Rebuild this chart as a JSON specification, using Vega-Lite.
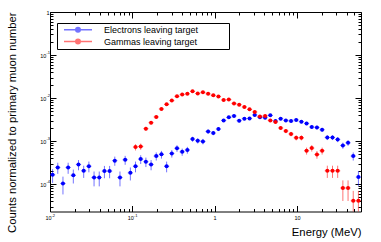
{
"$schema": "https://vega.github.io/schema/vega-lite/v6.json",
"autosize": {"type": "none"},
"padding": {"left": 50, "top": 12, "right": 20, "bottom": 30.5},
"width": 311,
"height": 199.5,
"background": "white",
"config": {
  "view": {"stroke": "black", "strokeWidth": 1},
  "axis": {"grid": false, "domain": false, "tickColor": "black", "tickWidth": 1, "labelFont": "Liberation Sans", "labelFontSize": 5.5, "labelColor": "black", "titleFont": "Liberation Sans", "titleFontSize": 11.3, "titleFontWeight": "normal", "titleColor": "black", "labelOverlap": false, "labelFlush": false, "labelBound": false}
},
"resolve": {"axis": {"x": "independent", "y": "independent"}},
"datasets": {
"d": [
{"s":"Electrons leaving target","x":0.010752,"x0":0.01,"x1":0.01156,"y":1.64e-4,"lo":1.063e-4,"hi":2.217e-4},
{"s":"Electrons leaving target","x":0.012429,"x0":0.01156,"x1":0.013364,"y":2.43e-4,"lo":1.728e-4,"hi":3.132e-4},
{"s":"Electrons leaving target","x":0.014369,"x0":0.013364,"x1":0.015449,"y":1.03e-4,"lo":5.73e-5,"hi":1.487e-4},
{"s":"Electrons leaving target","x":0.016611,"x0":0.015449,"x1":0.01786,"y":2.43e-4,"lo":1.728e-4,"hi":3.132e-4},
{"s":"Electrons leaving target","x":0.019203,"x0":0.01786,"x1":0.020647,"y":1.6e-4,"lo":1.03e-4,"hi":2.17e-4},
{"s":"Electrons leaving target","x":0.022199,"x0":0.020647,"x1":0.023868,"y":2.85e-4,"lo":2.089e-4,"hi":3.611e-4},
{"s":"Electrons leaving target","x":0.025663,"x0":0.023868,"x1":0.027593,"y":2.03e-4,"lo":1.388e-4,"hi":2.672e-4},
{"s":"Electrons leaving target","x":0.029668,"x0":0.027593,"x1":0.031898,"y":2.6e-4,"lo":1.873e-4,"hi":3.327e-4},
{"s":"Electrons leaving target","x":0.034296,"x0":0.031898,"x1":0.036876,"y":1.42e-4,"lo":8.83e-5,"hi":1.957e-4},
{"s":"Electrons leaving target","x":0.039649,"x0":0.036876,"x1":0.04263,"y":1.42e-4,"lo":8.83e-5,"hi":1.957e-4},
{"s":"Electrons leaving target","x":0.045835,"x0":0.04263,"x1":0.049282,"y":2.0e-4,"lo":1.363e-4,"hi":2.637e-4},
{"s":"Electrons leaving target","x":0.052987,"x0":0.049282,"x1":0.056971,"y":2.0e-4,"lo":1.363e-4,"hi":2.637e-4},
{"s":"Electrons leaving target","x":0.061255,"x0":0.056971,"x1":0.065861,"y":3.5e-4,"lo":2.657e-4,"hi":4.343e-4},
{"s":"Electrons leaving target","x":0.070813,"x0":0.065861,"x1":0.076138,"y":1.42e-4,"lo":8.83e-5,"hi":1.957e-4},
{"s":"Electrons leaving target","x":0.081863,"x0":0.076138,"x1":0.088019,"y":3.66e-4,"lo":2.798e-4,"hi":4.522e-4},
{"s":"Electrons leaving target","x":0.094637,"x0":0.088019,"x1":0.10175,"y":1.82e-4,"lo":1.212e-4,"hi":2.428e-4},
{"s":"Electrons leaving target","x":0.1094,"x0":0.10175,"x1":0.11763,"y":2.6e-4,"lo":1.873e-4,"hi":3.327e-4},
{"s":"Electrons leaving target","x":0.12647,"x0":0.11763,"x1":0.13598,"y":3.8e-4,"lo":2.922e-4,"hi":4.678e-4},
{"s":"Electrons leaving target","x":0.1462,"x0":0.13598,"x1":0.1572,"y":3.3e-4,"lo":2.481e-4,"hi":4.119e-4},
{"s":"Electrons leaving target","x":0.16902,"x0":0.1572,"x1":0.18173,"y":2.85e-4,"lo":2.089e-4,"hi":3.611e-4},
{"s":"Electrons leaving target","x":0.19539,"x0":0.18173,"x1":0.21009,"y":4.47e-4,"lo":3.517e-4,"hi":5.423e-4},
{"s":"Electrons leaving target","x":0.22589,"x0":0.21009,"x1":0.24287,"y":4.9e-4,"lo":3.903e-4,"hi":5.897e-4},
{"s":"Electrons leaving target","x":0.26113,"x0":0.24287,"x1":0.28077,"y":2.6e-4,"lo":1.873e-4,"hi":3.327e-4},
{"s":"Electrons leaving target","x":0.30188,"x0":0.28077,"x1":0.32458,"y":5.15e-4,"lo":4.13e-4,"hi":6.17e-4},
{"s":"Electrons leaving target","x":0.34898,"x0":0.32458,"x1":0.37523,"y":6.8e-4,"lo":5.62e-4,"hi":7.98e-4},
{"s":"Electrons leaving target","x":0.40344,"x0":0.37523,"x1":0.43378,"y":5.6e-4,"lo":4.53e-4,"hi":6.67e-4},
{"s":"Electrons leaving target","x":0.4664,"x0":0.43378,"x1":0.50147,"y":6.2e-4,"lo":5.08e-4,"hi":7.32e-4},
{"s":"Electrons leaving target","x":0.53918,"x0":0.50147,"x1":0.57972,"y":1.11e-3,"lo":9.6e-4,"hi":1.26e-3},
{"s":"Electrons leaving target","x":0.62331,"x0":0.57972,"x1":0.67018,"y":1.02e-3,"lo":8.76e-4,"hi":1.164e-3},
{"s":"Electrons leaving target","x":0.72057,"x0":0.67018,"x1":0.77476,"y":9.8e-4,"lo":8.39e-4,"hi":1.121e-3},
{"s":"Electrons leaving target","x":0.83301,"x0":0.77476,"x1":0.89566,"y":1.67e-3,"lo":1.486e-3,"hi":1.854e-3},
{"s":"Electrons leaving target","x":0.963,"x0":0.89566,"x1":1.0352,"y":1.54e-3,"lo":1.363e-3,"hi":1.717e-3},
{"s":"Electrons leaving target","x":1.113,"x0":1.0352,"x1":1.1967,"y":1.9e-3,"lo":1.704e-3,"hi":2.096e-3},
{"s":"Electrons leaving target","x":1.2867,"x0":1.1967,"x1":1.3835,"y":3.02e-3,"lo":2.772e-3,"hi":3.268e-3},
{"s":"Electrons leaving target","x":1.4875,"x0":1.3835,"x1":1.5994,"y":3.55e-3,"lo":3.282e-3,"hi":3.818e-3},
{"s":"Electrons leaving target","x":1.7197,"x0":1.5994,"x1":1.849,"y":3.83e-3,"lo":3.551e-3,"hi":4.109e-3},
{"s":"Electrons leaving target","x":1.988,"x0":1.849,"x1":2.1375,"y":2.97e-3,"lo":2.724e-3,"hi":3.216e-3},
{"s":"Electrons leaving target","x":2.2982,"x0":2.1375,"x1":2.471,"y":3.31e-3,"lo":3.051e-3,"hi":3.569e-3},
{"s":"Electrons leaving target","x":2.6568,"x0":2.471,"x1":2.8566,"y":3.36e-3,"lo":3.099e-3,"hi":3.621e-3},
{"s":"Electrons leaving target","x":3.0714,"x0":2.8566,"x1":3.3024,"y":4.04e-3,"lo":3.754e-3,"hi":4.326e-3},
{"s":"Electrons leaving target","x":3.5507,"x0":3.3024,"x1":3.8177,"y":3.55e-3,"lo":3.282e-3,"hi":3.818e-3},
{"s":"Electrons leaving target","x":4.1048,"x0":3.8177,"x1":4.4134,"y":3.49e-3,"lo":3.224e-3,"hi":3.756e-3},
{"s":"Electrons leaving target","x":4.7452,"x0":4.4134,"x1":5.1021,"y":3.95e-3,"lo":3.667e-3,"hi":4.233e-3},
{"s":"Electrons leaving target","x":5.4857,"x0":5.1021,"x1":5.8982,"y":2.92e-3,"lo":2.676e-3,"hi":3.164e-3},
{"s":"Electrons leaving target","x":6.3417,"x0":5.8982,"x1":6.8186,"y":3.31e-3,"lo":3.051e-3,"hi":3.569e-3},
{"s":"Electrons leaving target","x":7.3313,"x0":6.8186,"x1":7.8826,"y":3.02e-3,"lo":2.772e-3,"hi":3.268e-3},
{"s":"Electrons leaving target","x":8.4753,"x0":7.8826,"x1":9.1126,"y":2.92e-3,"lo":2.676e-3,"hi":3.164e-3},
{"s":"Electrons leaving target","x":9.7978,"x0":9.1126,"x1":10.532,"y":3.09e-3,"lo":2.84e-3,"hi":3.34e-3},
{"s":"Electrons leaving target","x":11.324,"x0":10.532,"x1":12.178,"y":2.82e-3,"lo":2.581e-3,"hi":3.059e-3},
{"s":"Electrons leaving target","x":13.094,"x0":12.178,"x1":14.078,"y":2.57e-3,"lo":2.342e-3,"hi":2.798e-3},
{"s":"Electrons leaving target","x":15.137,"x0":14.078,"x1":16.275,"y":2.12e-3,"lo":1.913e-3,"hi":2.327e-3},
{"s":"Electrons leaving target","x":17.499,"x0":16.275,"x1":18.814,"y":2.07e-3,"lo":1.865e-3,"hi":2.275e-3},
{"s":"Electrons leaving target","x":20.229,"x0":18.814,"x1":21.75,"y":1.83e-3,"lo":1.637e-3,"hi":2.023e-3},
{"s":"Electrons leaving target","x":23.385,"x0":21.75,"x1":25.144,"y":1.21e-3,"lo":1.053e-3,"hi":1.367e-3},
{"s":"Electrons leaving target","x":27.035,"x0":25.144,"x1":29.068,"y":1.21e-3,"lo":1.053e-3,"hi":1.367e-3},
{"s":"Electrons leaving target","x":31.254,"x0":29.068,"x1":33.604,"y":1.09e-3,"lo":9.41e-4,"hi":1.239e-3},
{"s":"Electrons leaving target","x":36.13,"x0":33.604,"x1":38.847,"y":7.9e-4,"lo":6.63e-4,"hi":9.17e-4},
{"s":"Electrons leaving target","x":41.768,"x0":38.847,"x1":44.909,"y":9.1e-4,"lo":7.74e-4,"hi":1.046e-3},
{"s":"Electrons leaving target","x":48.286,"x0":44.909,"x1":51.917,"y":4.47e-4,"lo":3.517e-4,"hi":5.423e-4},
{"s":"Electrons leaving target","x":55.82,"x0":51.917,"x1":60,"y":1.45e-4,"lo":9.07e-5,"hi":1.993e-4},
{"s":"Gammas leaving target","x":0.1094,"x0":0.10175,"x1":0.11763,"y":7.24e-4,"lo":6.03e-4,"hi":8.45e-4},
{"s":"Gammas leaving target","x":0.12647,"x0":0.11763,"x1":0.13598,"y":7.48e-4,"lo":6.25e-4,"hi":8.71e-4},
{"s":"Gammas leaving target","x":0.1462,"x0":0.13598,"x1":0.1572,"y":1.94e-3,"lo":1.742e-3,"hi":2.138e-3},
{"s":"Gammas leaving target","x":0.16902,"x0":0.1572,"x1":0.18173,"y":2.67e-3,"lo":2.437e-3,"hi":2.903e-3},
{"s":"Gammas leaving target","x":0.19539,"x0":0.18173,"x1":0.21009,"y":3.63e-3,"lo":3.359e-3,"hi":3.901e-3},
{"s":"Gammas leaving target","x":0.22589,"x0":0.21009,"x1":0.24287,"y":5.57e-3,"lo":5.234e-3,"hi":5.906e-3},
{"s":"Gammas leaving target","x":0.26113,"x0":0.24287,"x1":0.28077,"y":7.13e-3,"lo":6.75e-3,"hi":7.51e-3},
{"s":"Gammas leaving target","x":0.30188,"x0":0.28077,"x1":0.32458,"y":8.7e-3,"lo":8.28e-3,"hi":9.12e-3},
{"s":"Gammas leaving target","x":0.34898,"x0":0.32458,"x1":0.37523,"y":1.1e-2,"lo":1.0527e-2,"hi":1.1473e-2},
{"s":"Gammas leaving target","x":0.40344,"x0":0.37523,"x1":0.43378,"y":1.2e-2,"lo":1.1506e-2,"hi":1.2494e-2},
{"s":"Gammas leaving target","x":0.4664,"x0":0.43378,"x1":0.50147,"y":1.25e-2,"lo":1.1996e-2,"hi":1.3004e-2},
{"s":"Gammas leaving target","x":0.53918,"x0":0.50147,"x1":0.57972,"y":1.43e-2,"lo":1.3761e-2,"hi":1.4839e-2},
{"s":"Gammas leaving target","x":0.62331,"x0":0.57972,"x1":0.67018,"y":1.27e-2,"lo":1.2192e-2,"hi":1.3208e-2},
{"s":"Gammas leaving target","x":0.72057,"x0":0.67018,"x1":0.77476,"y":1.36e-2,"lo":1.3075e-2,"hi":1.4125e-2},
{"s":"Gammas leaving target","x":0.83301,"x0":0.77476,"x1":0.89566,"y":1.25e-2,"lo":1.1996e-2,"hi":1.3004e-2},
{"s":"Gammas leaving target","x":0.963,"x0":0.89566,"x1":1.0352,"y":1.16e-2,"lo":1.1115e-2,"hi":1.2085e-2},
{"s":"Gammas leaving target","x":1.113,"x0":1.0352,"x1":1.1967,"y":1.08e-2,"lo":1.0332e-2,"hi":1.1268e-2},
{"s":"Gammas leaving target","x":1.2867,"x0":1.1967,"x1":1.3835,"y":9.0e-3,"lo":8.573e-3,"hi":9.427e-3},
{"s":"Gammas leaving target","x":1.4875,"x0":1.3835,"x1":1.5994,"y":9.2e-3,"lo":8.768e-3,"hi":9.632e-3},
{"s":"Gammas leaving target","x":1.7197,"x0":1.5994,"x1":1.849,"y":7.5e-3,"lo":7.11e-3,"hi":7.89e-3},
{"s":"Gammas leaving target","x":1.988,"x0":1.849,"x1":2.1375,"y":7.0e-3,"lo":6.623e-3,"hi":7.377e-3},
{"s":"Gammas leaving target","x":2.2982,"x0":2.1375,"x1":2.471,"y":6.2e-3,"lo":5.845e-3,"hi":6.555e-3},
{"s":"Gammas leaving target","x":2.6568,"x0":2.471,"x1":2.8566,"y":5.45e-3,"lo":5.117e-3,"hi":5.783e-3},
{"s":"Gammas leaving target","x":3.0714,"x0":2.8566,"x1":3.3024,"y":4.74e-3,"lo":4.43e-3,"hi":5.05e-3},
{"s":"Gammas leaving target","x":3.5507,"x0":3.3024,"x1":3.8177,"y":3.74e-3,"lo":3.464e-3,"hi":4.016e-3},
{"s":"Gammas leaving target","x":4.1048,"x0":3.8177,"x1":4.4134,"y":3.83e-3,"lo":3.551e-3,"hi":4.109e-3},
{"s":"Gammas leaving target","x":4.7452,"x0":4.4134,"x1":5.1021,"y":3.02e-3,"lo":2.772e-3,"hi":3.268e-3},
{"s":"Gammas leaving target","x":5.4857,"x0":5.1021,"x1":5.8982,"y":2.77e-3,"lo":2.533e-3,"hi":3.007e-3},
{"s":"Gammas leaving target","x":6.3417,"x0":5.8982,"x1":6.8186,"y":2.01e-3,"lo":1.808e-3,"hi":2.212e-3},
{"s":"Gammas leaving target","x":7.3313,"x0":6.8186,"x1":7.8826,"y":1.71e-3,"lo":1.524e-3,"hi":1.896e-3},
{"s":"Gammas leaving target","x":8.4753,"x0":7.8826,"x1":9.1126,"y":1.46e-3,"lo":1.288e-3,"hi":1.632e-3},
{"s":"Gammas leaving target","x":9.7978,"x0":9.1126,"x1":10.532,"y":1.19e-3,"lo":1.035e-3,"hi":1.345e-3},
{"s":"Gammas leaving target","x":11.324,"x0":10.532,"x1":12.178,"y":1.19e-3,"lo":1.035e-3,"hi":1.345e-3},
{"s":"Gammas leaving target","x":13.094,"x0":12.178,"x1":14.078,"y":5.94e-4,"lo":4.84e-4,"hi":7.04e-4},
{"s":"Gammas leaving target","x":15.137,"x0":14.078,"x1":16.275,"y":6.87e-4,"lo":5.69e-4,"hi":8.05e-4},
{"s":"Gammas leaving target","x":17.499,"x0":16.275,"x1":18.814,"y":4.87e-4,"lo":3.876e-4,"hi":5.864e-4},
{"s":"Gammas leaving target","x":20.229,"x0":18.814,"x1":21.75,"y":5.94e-4,"lo":4.84e-4,"hi":7.04e-4},
{"s":"Gammas leaving target","x":23.385,"x0":21.75,"x1":25.144,"y":2.03e-4,"lo":1.388e-4,"hi":2.672e-4},
{"s":"Gammas leaving target","x":27.035,"x0":25.144,"x1":29.068,"y":2.03e-4,"lo":1.388e-4,"hi":2.672e-4},
{"s":"Gammas leaving target","x":31.254,"x0":29.068,"x1":33.604,"y":2.03e-4,"lo":1.388e-4,"hi":2.672e-4},
{"s":"Gammas leaving target","x":36.13,"x0":33.604,"x1":38.847,"y":8.1e-5,"lo":4.04e-5,"hi":1.216e-4},
{"s":"Gammas leaving target","x":41.768,"x0":38.847,"x1":44.909,"y":8.1e-5,"lo":4.04e-5,"hi":1.216e-4},
{"s":"Gammas leaving target","x":48.286,"x0":44.909,"x1":51.917,"y":4.07e-5,"lo":1.2e-5,"hi":6.94e-5},
{"s":"Gammas leaving target","x":55.82,"x0":51.917,"x1":60,"y":4.07e-5,"lo":1.2e-5,"hi":6.94e-5}
]
},
"data": {"name": "d"},
"layer": [
{
  "mark": {"type": "rule", "strokeWidth": 1, "opacity": 0.55, "clip": true},
  "encoding": {
    "x": {"field": "x", "type": "quantitative", "scale": {"type": "log", "domain": [0.01, 60], "nice": false}, "axis": null},
    "y": {"field": "lo", "type": "quantitative", "scale": {"type": "log", "domain": [2.3e-5, 1], "nice": false}, "axis": null},
    "y2": {"field": "hi"},
    "color": {"field": "s", "type": "nominal", "scale": {"domain": ["Electrons leaving target", "Gammas leaving target"], "range": ["#0000ff", "#ff0000"]}}
  }
},
{
  "mark": {"type": "rule", "strokeWidth": 1, "opacity": 0.55, "clip": true},
  "encoding": {
    "x": {"field": "x0", "type": "quantitative", "scale": {"type": "log", "domain": [0.01, 60], "nice": false}, "axis": null},
    "x2": {"field": "x1"},
    "y": {"field": "y", "type": "quantitative", "scale": {"type": "log", "domain": [2.3e-5, 1], "nice": false}, "axis": null},
    "color": {"field": "s", "type": "nominal", "scale": {"domain": ["Electrons leaving target", "Gammas leaving target"], "range": ["#0000ff", "#ff0000"]}}
  }
},
{
  "mark": {"type": "point", "filled": true, "size": 16, "opacity": 1, "clip": true},
  "encoding": {
    "x": {"field": "x", "type": "quantitative", "scale": {"type": "log", "domain": [0.01, 60], "nice": false},
      "axis": {"orient": "bottom", "title": "Energy (MeV)", "titleX": 311, "titleY": 23.5, "titleAlign": "right", "titleBaseline": "alphabetic", "titleAnchor": null,
        "values": [0.01,0.02,0.03,0.04,0.05,0.06,0.07,0.08,0.09,0.1,0.2,0.3,0.4,0.5,0.6,0.7,0.8,0.9,1,2,3,4,5,6,7,8,9,10,20,30,40,50],
        "labelExpr": "datum.value == 0.01 ? '10' : datum.value == 0.1 ? '10' : datum.value == 1 ? '1' : datum.value == 10 ? '10' : ''",
        "labelOffset": {"condition": {"test": "datum.value < 0.5", "value": -2}, "value": 0},
        "tickSize": {"condition": {"test": "abs(log(datum.value)/LN10 - round(log(datum.value)/LN10)) < 0.001", "value": -6}, "value": -3},
        "labelPadding": 10, "labelBaseline": "top"}},
    "y": {"field": "y", "type": "quantitative", "scale": {"type": "log", "domain": [2.3e-5, 1], "nice": false},
      "axis": {"orient": "left", "title": "Counts normalized to primary muon number", "titleX": -35, "titleY": 0, "titleAngle": 270, "titleAlign": "right", "titleBaseline": "alphabetic", "titleAnchor": null,
        "values": [3e-5,4e-5,5e-5,6e-5,7e-5,8e-5,9e-5,0.0001,0.0002,0.0003,0.0004,0.0005,0.0006,0.0007,0.0008,0.0009,0.001,0.002,0.003,0.004,0.005,0.006,0.007,0.008,0.009,0.01,0.02,0.03,0.04,0.05,0.06,0.07,0.08,0.09,0.1,0.2,0.3,0.4,0.5,0.6,0.7,0.8,0.9,1],
        "labelExpr": "datum.value == 1 ? '1' : (datum.value == 0.1 || datum.value == 0.01 || datum.value == 0.001 || datum.value == 0.0001) ? '10' : ''",
        "tickSize": {"condition": {"test": "abs(log(datum.value)/LN10 - round(log(datum.value)/LN10)) < 0.001", "value": -6}, "value": -3},
        "labelPadding": {"condition": {"test": "datum.value == 1", "value": 7}, "value": 10.2}, "labelAlign": "right", "labelBaseline": "middle"}},
    "color": {"field": "s", "type": "nominal", "scale": {"domain": ["Electrons leaving target", "Gammas leaving target"], "range": ["#0000ff", "#ff0000"]},
      "legend": {"title": null, "orient": "none", "legendX": 7, "legendY": 11, "direction": "vertical",
        "strokeColor": "black", "fillColor": "white", "padding": 2, "cornerRadius": 0,
        "symbolType": "M-1,0H1M-0.16,0A0.16,0.16,0,1,1,0.16,0A0.16,0.16,0,1,1,-0.16,0Z",
        "symbolSize": 784, "symbolStrokeWidth": 1.5, "symbolOffset": 4, "labelOffset": 11, "clipHeight": 9.4, "rowPadding": 1.9,
        "labelFont": "Liberation Sans", "labelFontSize": 9, "labelColor": "black", "labelBaseline": "middle", "labelLimit": 400,
        "labelExpr": "datum.label + '\u2800\u2800\u2800\u2800'",
        "encode": {"symbols": {"update": {"stroke": {"scale": "color", "field": "value"}, "strokeOpacity": {"value": 0.45}, "fillOpacity": {"value": 1}}}}}}
  }
},
{
  "mark": {"type": "point", "opacity": 0},
  "encoding": {
    "x": {"field": "x", "type": "quantitative", "scale": {"type": "log", "domain": [0.01, 60], "nice": false},
      "axis": {"orient": "top", "title": null, "labels": false,
        "values": [0.01,0.02,0.03,0.04,0.05,0.06,0.07,0.08,0.09,0.1,0.2,0.3,0.4,0.5,0.6,0.7,0.8,0.9,1,2,3,4,5,6,7,8,9,10,20,30,40,50],
        "tickSize": {"condition": {"test": "abs(log(datum.value)/LN10 - round(log(datum.value)/LN10)) < 0.001", "value": -6}, "value": -3}}},
    "y": {"field": "y", "type": "quantitative", "scale": {"type": "log", "domain": [2.3e-5, 1], "nice": false},
      "axis": {"orient": "right", "title": null, "labels": false,
        "values": [3e-5,4e-5,5e-5,6e-5,7e-5,8e-5,9e-5,0.0001,0.0002,0.0003,0.0004,0.0005,0.0006,0.0007,0.0008,0.0009,0.001,0.002,0.003,0.004,0.005,0.006,0.007,0.008,0.009,0.01,0.02,0.03,0.04,0.05,0.06,0.07,0.08,0.09,0.1,0.2,0.3,0.4,0.5,0.6,0.7,0.8,0.9,1],
        "tickSize": {"condition": {"test": "abs(log(datum.value)/LN10 - round(log(datum.value)/LN10)) < 0.001", "value": -6}, "value": -3}}}
  }
},
{
  "mark": {"type": "point", "opacity": 0},
  "encoding": {
    "x": {"field": "x", "type": "quantitative", "scale": {"type": "log", "domain": [0.01, 60], "nice": false},
      "axis": {"orient": "bottom", "title": null, "values": [0.01, 0.1],
        "labelExpr": "datum.value == 0.01 ? '-2' : '-1'", "labelFontSize": 4, "labelAlign": "left", "labelOffset": 1,
        "tickSize": {"condition": {"test": "abs(log(datum.value)/LN10 - round(log(datum.value)/LN10)) < 0.001", "value": -6}, "value": -3},
        "tickOpacity": 0, "labelPadding": 8.3, "labelBaseline": "top"}},
    "y": {"field": "y", "type": "quantitative", "scale": {"type": "log", "domain": [2.3e-5, 1], "nice": false},
      "axis": {"orient": "left", "title": null, "values": [0.0001, 0.001, 0.01, 0.1],
        "labelExpr": "datum.value == 0.1 ? '-1' : datum.value == 0.01 ? '-2' : datum.value == 0.001 ? '-3' : '-4'", "labelFontSize": 4, "labelAlign": "left", "labelBaseline": "middle", "labelOffset": -2.5,
        "tickSize": {"condition": {"test": "abs(log(datum.value)/LN10 - round(log(datum.value)/LN10)) < 0.001", "value": -6}, "value": -3},
        "tickOpacity": 0, "labelPadding": 10}}
  }
}
]
}
